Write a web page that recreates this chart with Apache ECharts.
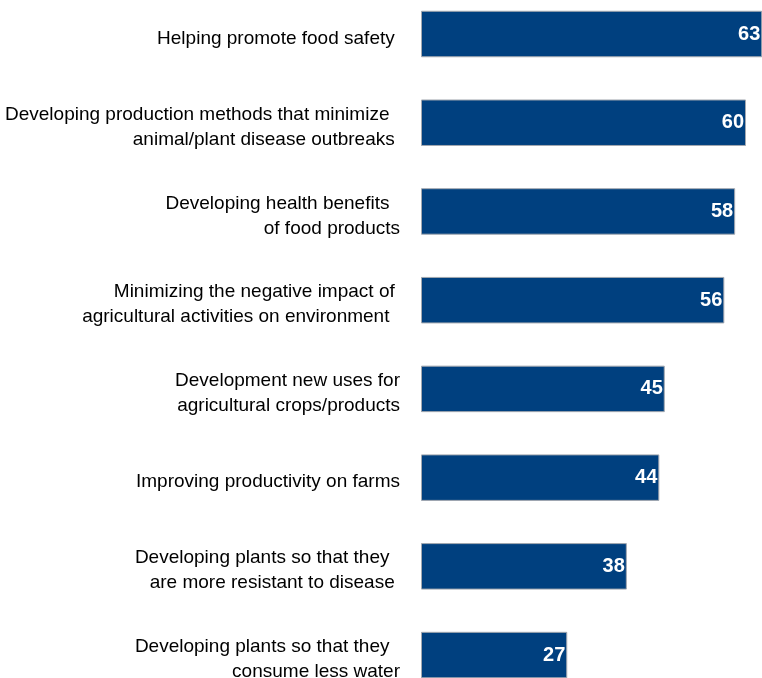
<!DOCTYPE html>
<html>
<head>
<meta charset="utf-8">
<script src="https://cdn.jsdelivr.net/npm/echarts@6/dist/echarts.min.js"></script>
<style>
  html, body { margin: 0; padding: 0; background: #ffffff; }
  #chart { width: 762px; height: 678px; }
</style>
</head>
<body>
<div id="chart"></div>
<script>
// Survey items, top to bottom, with their percentages
const categories = [
  'Helping promote food safety ',
  'Developing production methods that minimize  \nanimal/plant disease outbreaks ',
  'Developing health benefits  \nof food products',
  'Minimizing the negative impact of \nagricultural activities on environment  ',
  'Development new uses for\nagricultural crops/products',
  'Improving productivity on farms',
  'Developing plants so that they  \nare more resistant to disease ',
  'Developing plants so that they  \nconsume less water'
];
const values = [63, 60, 58, 56, 45, 44, 38, 27];

const FONT = '"Liberation Sans", Arial, sans-serif';

const chart = echarts.init(document.getElementById('chart'), null, { renderer: 'canvas' });

// Grid 0 holds the bars; grid 1 carries the category labels, set slightly lower
const gridBase = { left: 421, width: 341.25, height: 709.8, containLabel: false, outerBoundsMode: 'none' };

chart.setOption({
  animation: false,
  backgroundColor: '#ffffff',
  grid: [
    Object.assign({ top: -10.36 }, gridBase),
    Object.assign({ top: -6.0 }, gridBase)
  ],
  xAxis: [
    { type: 'value', gridIndex: 0, min: 0, max: 63, show: false },
    { type: 'value', gridIndex: 1, min: 0, max: 63, show: false }
  ],
  yAxis: [
    {
      type: 'category',
      gridIndex: 0,
      data: categories,
      inverse: true,
      axisLine: { show: false },
      axisTick: { show: false },
      splitLine: { show: false },
      axisLabel: { show: false }
    },
    {
      type: 'category',
      gridIndex: 1,
      data: categories,
      inverse: true,
      axisLine: { show: false },
      axisTick: { show: false },
      splitLine: { show: false },
      axisLabel: {
        margin: 21,
        color: '#000000',
        fontFamily: FONT,
        fontSize: 19,
        lineHeight: 25,
        align: 'right'
      }
    }
  ],
  series: [{
    type: 'bar',
    xAxisIndex: 0,
    yAxisIndex: 0,
    data: values,
    barWidth: 46.5,
    itemStyle: {
      color: '#00407f',
      borderColor: '#a3a8b0',
      borderWidth: 1
    },
    label: {
      show: true,
      position: 'insideRight',
      distance: 2,
      color: '#ffffff',
      fontFamily: FONT,
      fontWeight: 'bold',
      fontSize: 20
    }
  }]
});
</script>
</body>
</html>
